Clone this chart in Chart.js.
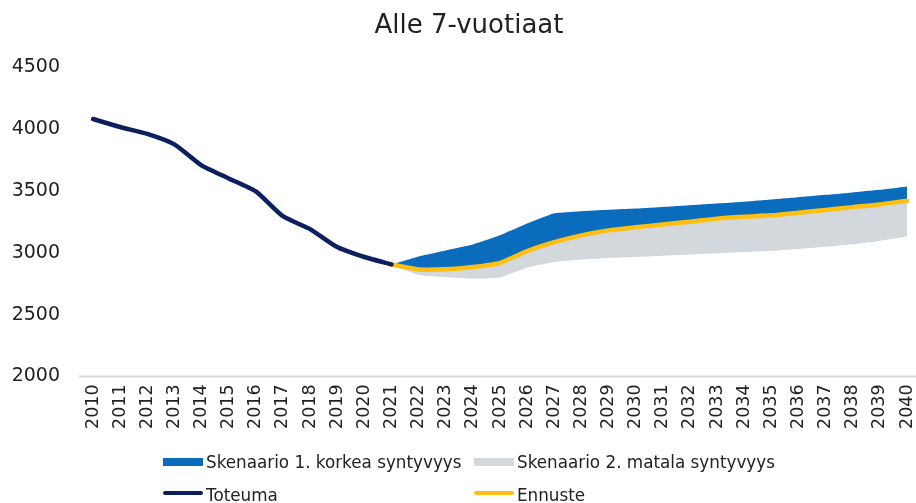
<!DOCTYPE html>
<html>
<head>
<meta charset="utf-8">
<script src="https://cdn.jsdelivr.net/npm/chart.js@4.4.1/dist/chart.umd.min.js"></script>
<style>
  html,body{margin:0;padding:0;background:#fff;}
  .wrap{position:relative;width:916px;height:503px;font-family:'DejaVu Sans',sans-serif;color:#222;}
  .title{position:absolute;left:22px;right:0;top:9px;text-align:center;font-size:26px;}
  .row{position:absolute;left:0;display:flex;align-items:center;font-size:16.8px;white-space:nowrap;}
  .item{position:absolute;display:flex;align-items:center;}
  .box{width:40px;height:8px;margin-right:3px;}
  .ln{width:40px;height:4.5px;border-radius:3px;margin-right:3px;position:relative;top:-2px;}
</style>
</head>
<body>
<div class="wrap">
  <canvas id="c" width="916" height="503"></canvas>
  <div class="title">Alle 7-vuotiaat</div>
  <div id="legend"></div>
</div>
<script>
// ---- data ----
const years = ['2010','2011','2012','2013','2014','2015','2016','2017','2018','2019','2020',
  '2021','2022','2023','2024','2025','2026','2027','2028','2029','2030',
  '2031','2032','2033','2034','2035','2036','2037','2038','2039','2040'];
const yTicks = [2000, 2500, 3000, 3500, 4000, 4500];

// 2010-2021
const toteuma = [4080, 4015, 3960, 3875, 3705, 3600, 3495, 3295, 3190, 3045, 2965, 2905];
// 2021-2040
const ennuste = [2905, 2865, 2866, 2884, 2918, 3013, 3085, 3140, 3180, 3205,
  3228, 3250, 3275, 3290, 3302, 3323, 3345, 3368, 3390, 3420];
const korkea  = [2905, 2970, 3018, 3066, 3140, 3235, 3318, 3335, 3347, 3357,
  3370, 3384, 3398, 3412, 3430, 3448, 3467, 3487, 3508, 3535];
const matala  = [2905, 2820, 2802, 2790, 2800, 2880, 2925, 2945, 2958, 2965,
  2975, 2985, 2995, 3005, 3015, 3030, 3047, 3068, 3095, 3130];

const names = ['Skenaario 1. korkea syntyvyys', 'Skenaario 2. matala syntyvyys', 'Toteuma', 'Ennuste'];
const colors = ['#0a6cbd', '#d2d8dc', '#0c1f5e', '#fdbf12'];

// forecast series start at 2021, pad the historic years with nulls
const lead = Array(toteuma.length - 1).fill(null);
const full = arr => [...lead, ...arr];

const FONT = "'DejaVu Sans', sans-serif";

// axis line runs a bit past the plot on both sides, like the original
const axisLine = {
  id: 'axisLine',
  beforeDatasetsDraw(c) {
    const g = c.ctx, y = c.scales.y.getPixelForValue(yTicks[0]);
    g.save();
    g.strokeStyle = '#d9d9d9'; g.lineWidth = 2;
    g.beginPath(); g.moveTo(c.chartArea.left - 14, y); g.lineTo(c.width, y); g.stroke();
    g.restore();
  }
};

const lineDs = (i, data, order) => ({
  label: names[i], data, borderColor: colors[i], backgroundColor: colors[i],
  borderWidth: 4.5, borderCapStyle: 'round', borderJoinStyle: 'round',
  pointRadius: 0, tension: 0.2, fill: false, order,
});
const bandDs = (i, data, order) => ({
  label: names[i], data, borderWidth: 0, borderColor: colors[i], backgroundColor: colors[i],
  pointRadius: 0, tension: 0.1, fill: 3, order,
});

new Chart(document.getElementById('c'), {
  type: 'line',
  data: {
    labels: years,
    datasets: [
      bandDs(0, full(korkea), 2),
      bandDs(1, full(matala), 3),
      lineDs(2, toteuma, 0),
      lineDs(3, full(ennuste), 1),
    ],
  },
  options: {
    responsive: false,
    animation: false,
    layout: { padding: { left: 10, right: 9, top: 67, bottom: 66 } },
    plugins: { legend: { display: false }, tooltip: { enabled: false }, title: { display: false } },
    scales: {
      x: {
        offset: false,
        grid: { display: false, drawTicks: false },
        border: { display: false },
        afterFit: s => { s.paddingLeft = 0; s.paddingRight = 0; },
        ticks: { color: '#222', font: { family: FONT, size: 17.5 }, minRotation: 90, maxRotation: 90, autoSkip: false, padding: 8 },
      },
      y: {
        min: yTicks[0], max: yTicks[yTicks.length - 1],
        grid: { display: false, drawTicks: false },
        border: { display: false },
        afterBuildTicks: s => { s.ticks = yTicks.map(v => ({ value: v })); },
        afterFit: s => { s.width = 83; },
        ticks: { color: '#222', font: { family: FONT, size: 19 }, padding: 33, callback: v => String(v) },
      },
    },
  },
  plugins: [axisLine],
});

// legend: two columns, boxes for scenarios, lines for toteuma/ennuste
const lg = document.getElementById('legend');
const rows = [[0, 1, 461.5], [2, 3, 495]];
const cols = [163, 474];
rows.forEach(([a, b, top]) => {
  const row = document.createElement('div');
  row.className = 'row'; row.style.top = top + 'px';
  [a, b].forEach((i, k) => {
    const it = document.createElement('div');
    it.className = 'item'; it.style.left = cols[k] + 'px'; it.style.position = 'absolute';
    const sw = document.createElement('span');
    sw.className = i < 2 ? 'box' : 'ln';
    sw.style.background = colors[i];
    const tx = document.createElement('span');
    tx.textContent = names[i];
    it.appendChild(sw); it.appendChild(tx);
    row.appendChild(it);
  });
  lg.appendChild(row);
});
</script>
</body>
</html>
